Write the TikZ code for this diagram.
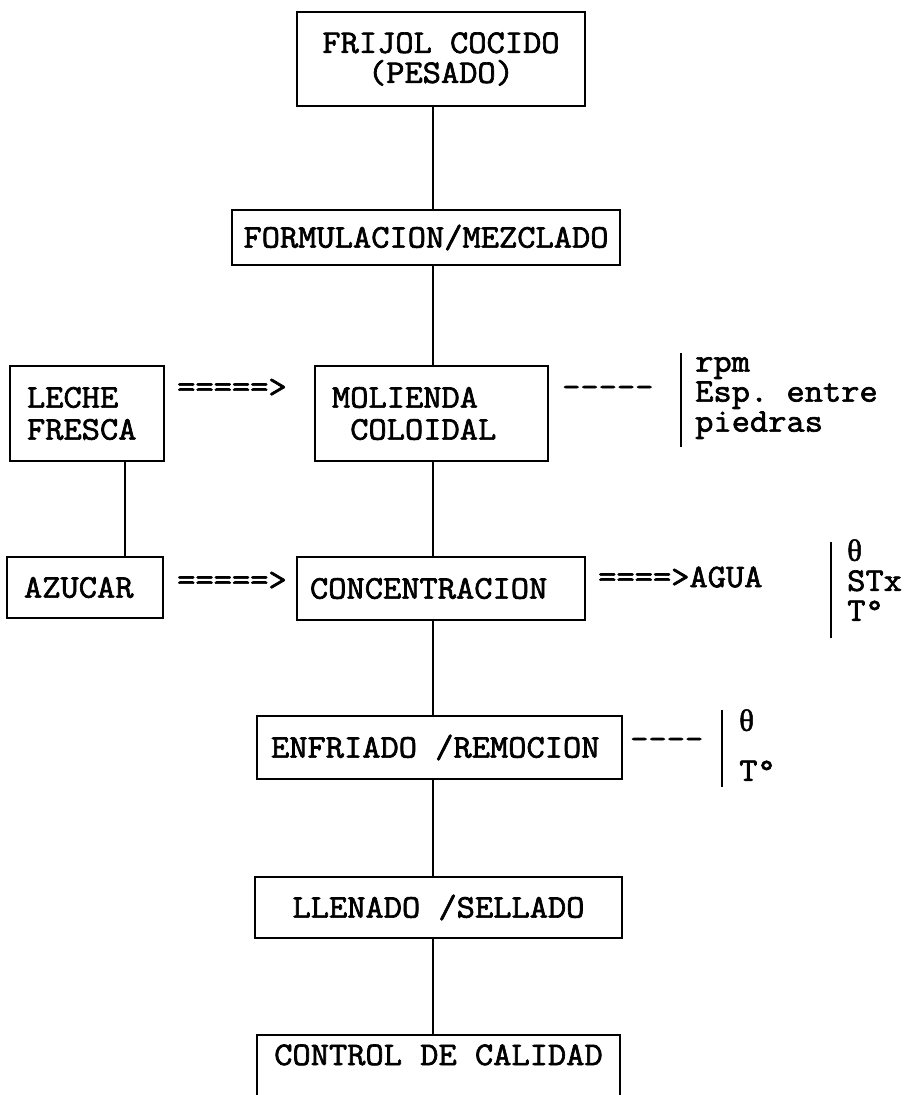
\documentclass[tikz,border=0pt]{standalone}
\usepackage{fontspec}
\newfontfamily\twfont[FakeBold=2, FakeStretch=1.074]{Latin Modern Mono}
\newfontfamily\grkfont[FakeBold=1.5]{Liberation Serif}
\newcommand\tf{\twfont\fontsize{33pt}{30pt}\selectfont}
\newcommand\thet{{\grkfont\fontsize{31pt}{30pt}\selectfont θ}}
\newcommand\chs{\hphantom{x}}
\begin{document}
\begin{tikzpicture}[x=1pt,y=-1pt,
  box/.style={draw, line width=1.6pt, rectangle, inner sep=0pt, font=\tf},
  txt/.style={inner sep=0pt, font=\tf, anchor=mid west},
  ptxt/.style={inner sep=0pt, font=\tf, align=left, anchor=north west},
  link/.style={line width=1.6pt},
  bar/.style={line width=2pt}]
\useasboundingbox (0,0) rectangle (904,1095);
\clip (0,0) rectangle (904,1095);
\fill[white] (0,0) rectangle (904,1095);
% main column boxes
\node[box, minimum width=288pt, minimum height=94pt, text width=268pt, align=center] (b1) at (441,59) {FRIJOL\chs COCIDO\\(PESADO)};
\node[box, minimum width=388pt, minimum height=55pt, text width=376pt, align=center] (b2) at (426,237.5) {FORMULACION/MEZCLADO};
\node[box, minimum width=233pt, minimum height=95pt, text width=199pt, align=left, font=\twfont\fontsize{33pt}{32pt}\selectfont] (b3) at (431.5,413.5) {MOLIENDA\\\chs COLOIDAL};
\node[box, minimum width=288pt, minimum height=63pt, text width=262pt, align=left] (b4) at (441,588.5) {CONCENTRACION};
\node[box, minimum width=365pt, minimum height=63pt, text width=337pt, align=left] (b5) at (439.5,747.5) {ENFRIADO\chs/REMOCION};
\node[box, minimum width=367pt, minimum height=61pt, text width=340pt, align=center] (b6) at (438.5,907.5) {LLENADO\chs/SELLADO};
\node[box, minimum width=363pt, text width=340pt, align=center, text height=30pt, text depth=60pt, anchor=base] (b7) at (438.5,1065) {CONTROL\chs DE\chs CALIDAD};
% left boxes
\node[box, minimum width=154pt, minimum height=95pt, text width=120pt, align=left, font=\twfont\fontsize{33pt}{32pt}\selectfont] (lech) at (87,413.5) {LECHE\\FRESCA};
\node[box, minimum width=156pt, minimum height=61pt, text width=122pt, align=left] (azu) at (85,587.5) {AZUCAR};
% connectors
\coordinate (ax) at (433,0);
\coordinate (lx) at (125,0);
\draw[link] (b1.south -| ax) -- (b2.north -| ax);
\draw[link] (b2.south -| ax) -- (b3.north -| ax);
\draw[link] (b3.south -| ax) -- (b4.north -| ax);
\draw[link] (b4.south -| ax) -- (b5.north -| ax);
\draw[link] (b5.south -| ax) -- (b6.north -| ax);
\draw[link] (b6.south -| ax) -- (b7.north -| ax);
\draw[link] (lech.south -| lx) -- (azu.north -| lx);
% typed arrows and dashes
\node[txt] (ar1) at (177,395) {=====>};
\node[txt] (ar2) at (177,588) {=====>};
\node[txt] (ar3) at (598,585) {====>AGUA};
\node[txt] (d1) at (562,395) {-----};
\node[txt] (d2) at (630,747) {----};
% parameter groups
\coordinate (r1t) at (681,353); \coordinate (r1b) at (681,447);
\draw[bar] (r1t) -- (r1b);
\node[ptxt] (p1) at (695,357) {rpm\\Esp.\chs entre\\piedras};
\coordinate (r2t) at (831,542); \coordinate (r2b) at (831,638);
\draw[bar] (r2t) -- (r2b);
\node[ptxt] (p2) at (847,539) {\thet\\STx\\T°};
\coordinate (r3t) at (722,710); \coordinate (r3b) at (722,787);
\draw[bar] (r3t) -- (r3b);
\node[ptxt] (p3) at (739,709) {\thet\\[20pt]T°};
\end{tikzpicture}
\end{document}
